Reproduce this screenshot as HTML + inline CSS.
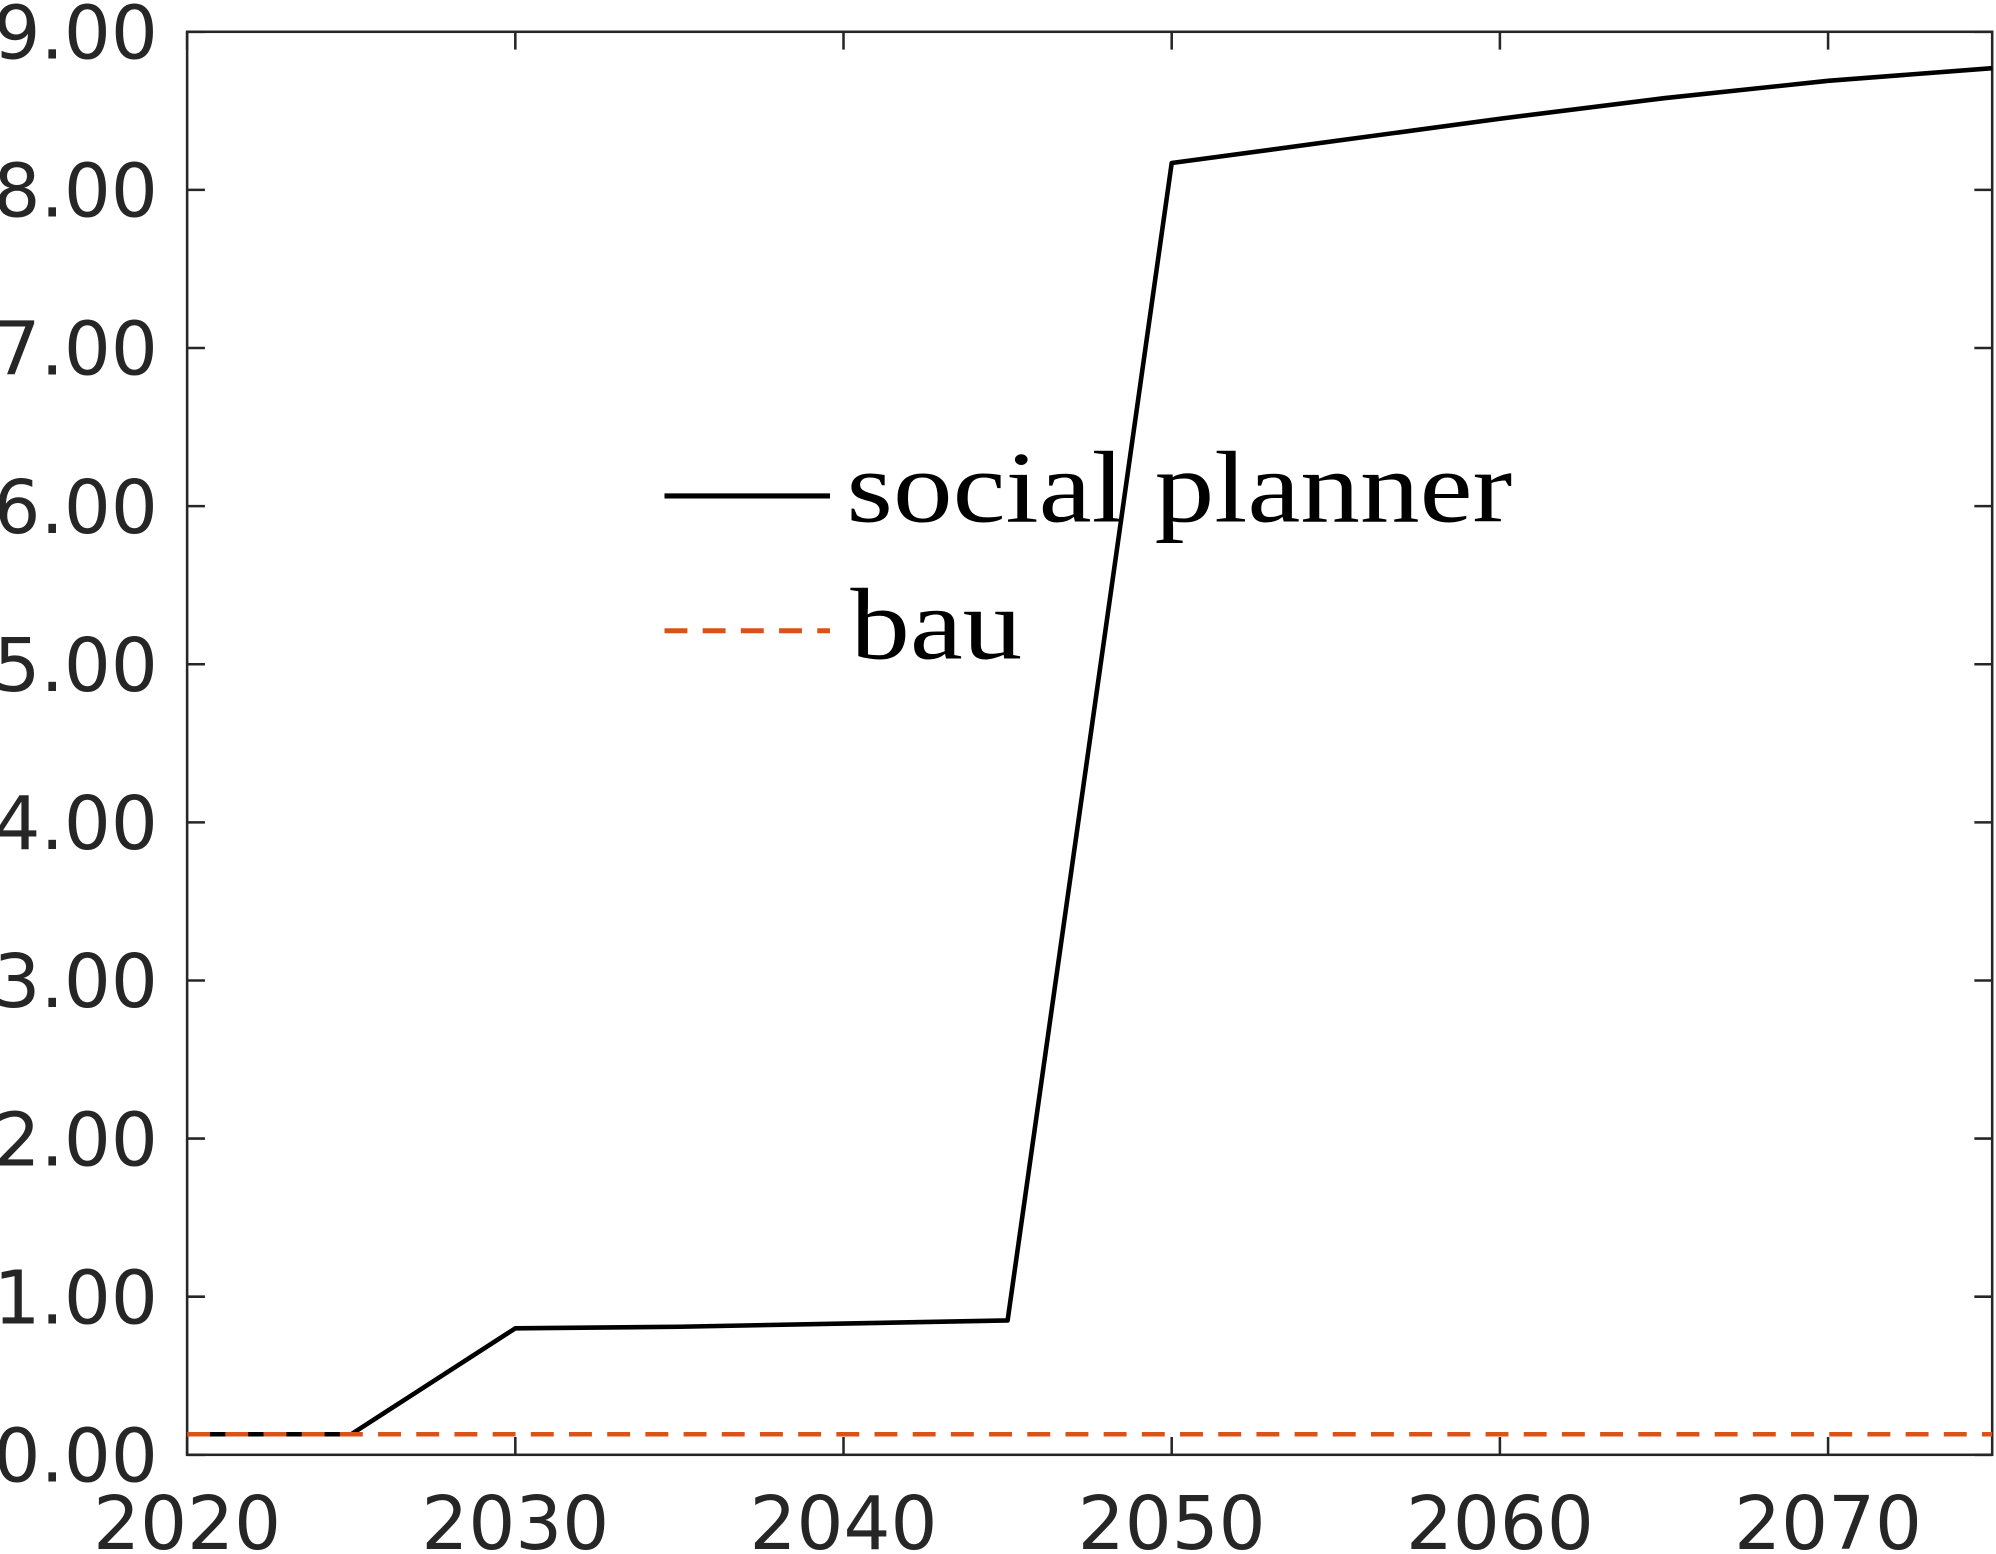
<!DOCTYPE html>
<html><head><meta charset="utf-8"><style>
html,body{margin:0;padding:0;background:#fff;overflow:hidden}
svg{display:block}
</style></head><body>
<svg id="chart" width="1996" height="1554" viewBox="0 0 1568 1222" preserveAspectRatio="none" xmlns="http://www.w3.org/2000/svg">
<rect x="147" y="25" width="1418" height="1119" fill="#fff" stroke="#262626" stroke-width="2"/>
<g id="yticks"></g>
<g id="xticks"></g>
<g id="series"></g>
<g>
<line x1="522" y1="390" x2="652" y2="390" stroke="#000" stroke-width="4"/>
<text x="665" y="410" font-family="Liberation Serif, serif" font-size="80" textLength="523" lengthAdjust="spacingAndGlyphs" fill="#000">social planner</text>
<line x1="522" y1="496" x2="652" y2="496" stroke="#D95319" stroke-width="4" stroke-dasharray="18,12"/>
<text x="668" y="518" font-family="Liberation Serif, serif" font-size="80" textLength="135" lengthAdjust="spacingAndGlyphs" fill="#000">bau</text>
</g>
</svg>
<script>
const years=[2020,2025,2030,2035,2040,2045,2050,2055,2060,2065,2070,2075];
const socialPlanner=[0.13,0.13,0.80,0.81,0.83,0.85,8.17,8.31,8.45,8.58,8.69,8.77];
const bau=[0.13,0.13,0.13,0.13,0.13,0.13,0.13,0.13,0.13,0.13,0.13,0.13];
const yTicks=[0,1,2,3,4,5,6,7,8,9];
const yTickLabels=["0.00","1.00","2.00","3.00","4.00","5.00","6.00","7.00","8.00","9.00"];
const xTicks=[2020,2030,2040,2050,2060,2070];
const xTickLabels=["2020","2030","2040","2050","2060","2070"];
const L=147,R=1565,T=25,B=1144,X0=2020,X1=2075,Y0=0,Y1=9;
const sx=v=>L+(v-X0)/(X1-X0)*(R-L);
const sy=v=>B-(v-Y0)/(Y1-Y0)*(B-T);
const NS="http://www.w3.org/2000/svg";
function mk(tag,attrs,parent){const e=document.createElementNS(NS,tag);for(const k in attrs)e.setAttribute(k,attrs[k]);parent.appendChild(e);return e;}
const yg=document.getElementById('yticks'),xg=document.getElementById('xticks'),sg=document.getElementById('series');
yTicks.forEach((v,i)=>{const y=sy(v);
 const t1=mk('line',{x1:L,x2:L+14,y1:y,y2:y,stroke:'#262626','stroke-width':2},yg);
 
 
 const t2=mk('line',{x1:R-14,x2:R,y1:y,y2:y,stroke:'#262626','stroke-width':2},yg);
 
 
 const tx=mk('text',{x:124,y:y+21,'text-anchor':'end','font-family':'DejaVu Sans, sans-serif','font-size':58,fill:'#262626'},yg);
 tx.textContent=yTickLabels[i];
 
 
});
xTicks.forEach((v,i)=>{const x=sx(v);
 const t1=mk('line',{x1:x,x2:x,y1:B,y2:B-14,stroke:'#262626','stroke-width':2},xg);
 
 
 const t2=mk('line',{x1:x,x2:x,y1:T,y2:T+14,stroke:'#262626','stroke-width':2},xg);
 
 
 const tx=mk('text',{x:x,y:1218,'text-anchor':'middle','font-family':'DejaVu Sans, sans-serif','font-size':58,fill:'#262626'},xg);
 tx.textContent=xTickLabels[i];
 
 
});
const pts=a=>years.map((yr,i)=>sx(yr)+','+sy(a[i])).join(' ');
const l1=mk('polyline',{points:pts(socialPlanner),fill:'none',stroke:'#000','stroke-width':3.6,'stroke-linejoin':'round'},sg);


const l2=mk('polyline',{points:pts(bau),fill:'none',stroke:'#D95319','stroke-width':3.6,'stroke-dasharray':'18,12'},sg);


</script>
</body></html>
